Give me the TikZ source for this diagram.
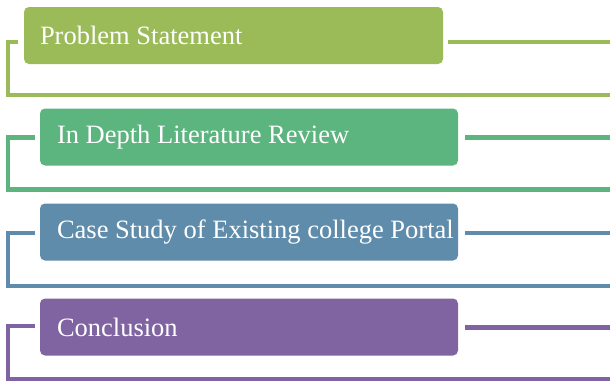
\documentclass[tikz,border=0pt]{standalone}
\usepackage{fontspec}
\setmainfont{Liberation Serif}
\definecolor{cOlive}{RGB}{155,187,89}
\definecolor{cGreen}{RGB}{92,180,127}
\definecolor{cBlue}{RGB}{96,140,171}
\definecolor{cPurple}{RGB}{128,100,162}
\tikzset{
  stepbox/.style={draw=none, rounded corners=5pt, minimum width=#1, minimum height=57pt, inner sep=0pt},
  steptext/.style={anchor=west, inner sep=0pt, text=white, font=\fontsize{26.5}{30}\selectfont},
  conn/.style={line width=4.5pt}
}
\begin{document}
\begin{tikzpicture}[x=1pt,y=-1pt]
\useasboundingbox (0,0) rectangle (610,380);
% row 1
\node[stepbox=419pt, fill=cOlive] (b1) at (233.5,35.5) {};
\node[steptext] (t1) at ([xshift=16pt]b1.west) {Problem Statement};
\coordinate (r1a) at (448,42); \coordinate (r1b) at (610,42);
\coordinate (l1a) at (18,42); \coordinate (l1b) at (8,42); \coordinate (l1c) at (8,95); \coordinate (l1d) at (610,95);
\draw[conn, cOlive] (r1a) -- (r1b);
\draw[conn, cOlive] (l1a) -- (l1b) -- (l1c) -- (l1d);
% row 2
\node[stepbox=418pt, fill=cGreen] (b2) at (249,137) {};
\node[steptext] (t2) at ([xshift=17pt]b2.west) {In Depth Literature Review};
\coordinate (r2a) at (465,137.5); \coordinate (r2b) at (610,137.5);
\coordinate (l2a) at (35,137.5); \coordinate (l2b) at (8,137.5); \coordinate (l2c) at (8,189.5); \coordinate (l2d) at (610,189.5);
\draw[conn, cGreen] (r2a) -- (r2b);
\draw[conn, cGreen] (l2a) -- (l2b) -- (l2c) -- (l2d);
% row 3
\node[stepbox=418pt, fill=cBlue] (b3) at (249,232) {};
\node[steptext] (t3) at ([xshift=17pt]b3.west) {Case Study of Existing college Portal};
\coordinate (r3a) at (465,233); \coordinate (r3b) at (610,233);
\coordinate (l3a) at (35,233); \coordinate (l3b) at (8,233); \coordinate (l3c) at (8,286); \coordinate (l3d) at (610,286);
\draw[conn, cBlue] (r3a) -- (r3b);
\draw[conn, cBlue] (l3a) -- (l3b) -- (l3c) -- (l3d);
% row 4
\node[stepbox=418pt, fill=cPurple] (b4) at (249,327) {};
\node[steptext] (t4) at ([xshift=17pt]b4.west) {Conclusion};
\coordinate (r4a) at (465,327.5); \coordinate (r4b) at (610,327.5);
\coordinate (l4a) at (35,326); \coordinate (l4b) at (8,326); \coordinate (l4c) at (8,379); \coordinate (l4d) at (610,379);
\draw[conn, cPurple] (r4a) -- (r4b);
\draw[conn, cPurple] (l4a) -- (l4b) -- (l4c) -- (l4d);
\end{tikzpicture}
\end{document}
